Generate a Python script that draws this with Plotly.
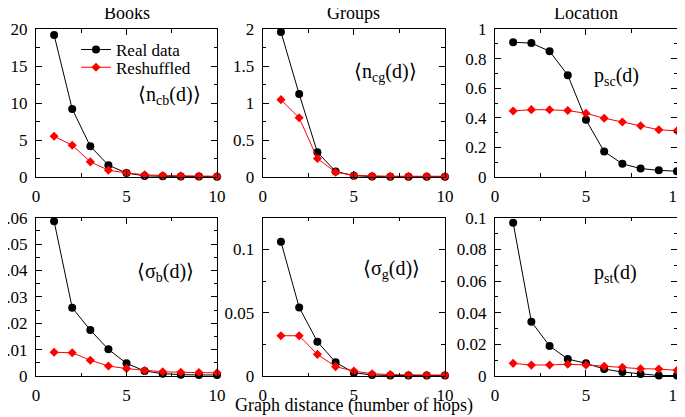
import plotly.graph_objects as go

d = [1, 2, 3, 4, 5, 6, 7, 8, 9, 10]

books_real = [19.2, 9.2, 4.15, 1.6, 0.54, 0.15, 0.1, 0.08, 0.06, 0.05]
books_resh = [5.5, 4.3, 2.05, 0.92, 0.55, 0.3, 0.2, 0.15, 0.1, 0.1]
groups_real = [1.96, 1.12, 0.335, 0.075, 0.018, 0.006, 0.005, 0.005, 0.005, 0.005]
groups_resh = [1.045, 0.80, 0.25, 0.065, 0.022, 0.012, 0.01, 0.01, 0.01, 0.01]
loc_real = [0.91, 0.905, 0.85, 0.688, 0.386, 0.172, 0.089, 0.057, 0.045, 0.039]
loc_resh = [0.446, 0.455, 0.454, 0.449, 0.43, 0.397, 0.372, 0.346, 0.319, 0.312]
sigb_real = [0.0587, 0.0259, 0.0174, 0.0101, 0.0048, 0.0019, 0.0009, 0.0005, 0.0004, 0.0004]
sigb_resh = [0.009, 0.0088, 0.006, 0.0038, 0.0028, 0.0021, 0.0016, 0.0014, 0.0013, 0.0012]
sigg_real = [0.106, 0.0542, 0.0271, 0.0108, 0.0026, 0.0008, 0.0004, 0.0003, 0.0003, 0.0003]
sigg_resh = [0.0318, 0.0318, 0.0171, 0.0074, 0.0039, 0.0018, 0.0011, 0.0008, 0.0008, 0.0008]
pst_real = [0.0968, 0.0343, 0.019, 0.0107, 0.008, 0.0044, 0.0025, 0.0013, 0.0003, 0.0003]
pst_resh = [0.008, 0.0069, 0.007, 0.0074, 0.007, 0.0061, 0.0055, 0.0046, 0.0044, 0.0036]

col_titles = ["Books", "Groups", "Location"]
panel_labels = ["⟨n<sub>cb</sub>(d)⟩", "⟨n<sub>cg</sub>(d)⟩", "p<sub>sc</sub>(d)",
                "⟨σ<sub>b</sub>(d)⟩", "⟨σ<sub>g</sub>(d)⟩", "p<sub>st</sub>(d)"]
x_title = "Graph distance (number of hops)"
legend_names = ["Real data", "Reshuffled"]

panels = [
    (books_real, books_resh, [0, 20], 5, 2.5),
    (groups_real, groups_resh, [0, 2], 0.5, 0.25),
    (loc_real, loc_resh, [0, 1], 0.2, 0.1),
    (sigb_real, sigb_resh, [0, 0.06], 0.01, 0.005),
    (sigg_real, sigg_resh, [0, 0.125], 0.05, 0.025),
    (pst_real, pst_resh, [0, 0.1], 0.02, 0.01),
]

xdomains = [[0, 0.2824], [0.3537, 0.638], [0.716, 1.0]]
ydomains = [[0.5735, 1.0], [0.0, 0.456]]

FONT = "Liberation Serif"
fig = go.Figure()
layout = {}
for i, (real, resh, yr, dt, mdt) in enumerate(panels):
    n = i + 1
    xa = "x" if n == 1 else f"x{n}"
    ya = "y" if n == 1 else f"y{n}"
    fig.add_trace(go.Scatter(x=d, y=real, mode="lines+markers", name=legend_names[0],
                             line=dict(color="black", width=1),
                             marker=dict(symbol="circle", size=8, color="black"),
                             xaxis=xa, yaxis=ya, cliponaxis=False, showlegend=(n == 1),
                             legend="legend"))
    fig.add_trace(go.Scatter(x=d, y=resh, mode="lines+markers", name=legend_names[1],
                             line=dict(color="#ff0000", width=1),
                             marker=dict(symbol="diamond", size=7, color="#ff0000"),
                             xaxis=xa, yaxis=ya, cliponaxis=False, showlegend=(n == 1),
                             legend="legend2"))
    col = i % 3
    row = i // 3
    axcommon = dict(showline=True, linecolor="black", linewidth=1, mirror="ticks",
                    ticks="inside", ticklen=6, tickcolor="black", showgrid=False,
                    zeroline=False, automargin=False, ticklabelstandoff=4,
                    ticklabeloverflow="allow",
                    tickfont=dict(family=FONT, size=17, color="black"))
    layout["xaxis" if n == 1 else f"xaxis{n}"] = dict(
        domain=xdomains[col], range=[0, 10], dtick=5, tick0=0,
        anchor=ya, minor=dict(dtick=2.5, ticks="inside", ticklen=3.5, tickcolor="black"),
        **axcommon)
    layout["yaxis" if n == 1 else f"yaxis{n}"] = dict(
        domain=ydomains[row], range=yr, dtick=dt, tick0=0,
        anchor=xa, minor=dict(dtick=mdt, ticks="inside", ticklen=3.5, tickcolor="black"),
        **axcommon)

fig.update_layout(**layout)

ann = []
for col, t in enumerate(col_titles):
    ann.append(dict(text=t, x=sum(xdomains[col]) / 2, y=1.0, xref="paper", yref="paper",
                    xanchor="center", yanchor="middle", yshift=16, showarrow=False,
                    font=dict(family=FONT, size=18, color="black")))
label_pos = [(0.74, 0.554), (0.676, 0.709), (0.669, 0.676), (0.715, 0.654), (0.707, 0.67), (0.66, 0.647)]
for i, lab in enumerate(panel_labels):
    n = i + 1
    xa = "x" if n == 1 else f"x{n}"
    ya = "y" if n == 1 else f"y{n}"
    ann.append(dict(text=lab, x=label_pos[i][0], y=label_pos[i][1],
                    xref=f"{xa} domain", yref=f"{ya} domain", showarrow=False,
                    xanchor="center", yanchor="middle",
                    font=dict(family=FONT, size=20, color="black")))
ann.append(dict(text=x_title, x=0.496, xref="paper", y=0, yref="paper", yshift=-29,
                xanchor="center", yanchor="middle",
                showarrow=False, font=dict(family=FONT, size=18, color="black")))

legstyle = dict(xref="paper", yref="paper", xanchor="left", yanchor="middle",
                bgcolor="rgba(0,0,0,0)", font=dict(family=FONT, size=17, color="black"),
                borderwidth=0)
fig.update_layout(
    width=677, height=409,
    margin=dict(l=28, r=8, t=21, b=41),
    plot_bgcolor="white", paper_bgcolor="white",
    annotations=ann,
    legend=dict(x=0.0624, y=0.9395, **legstyle),
    legend2=dict(x=0.0624, y=0.8885, **legstyle),
)

fig.write_html("out.html")
